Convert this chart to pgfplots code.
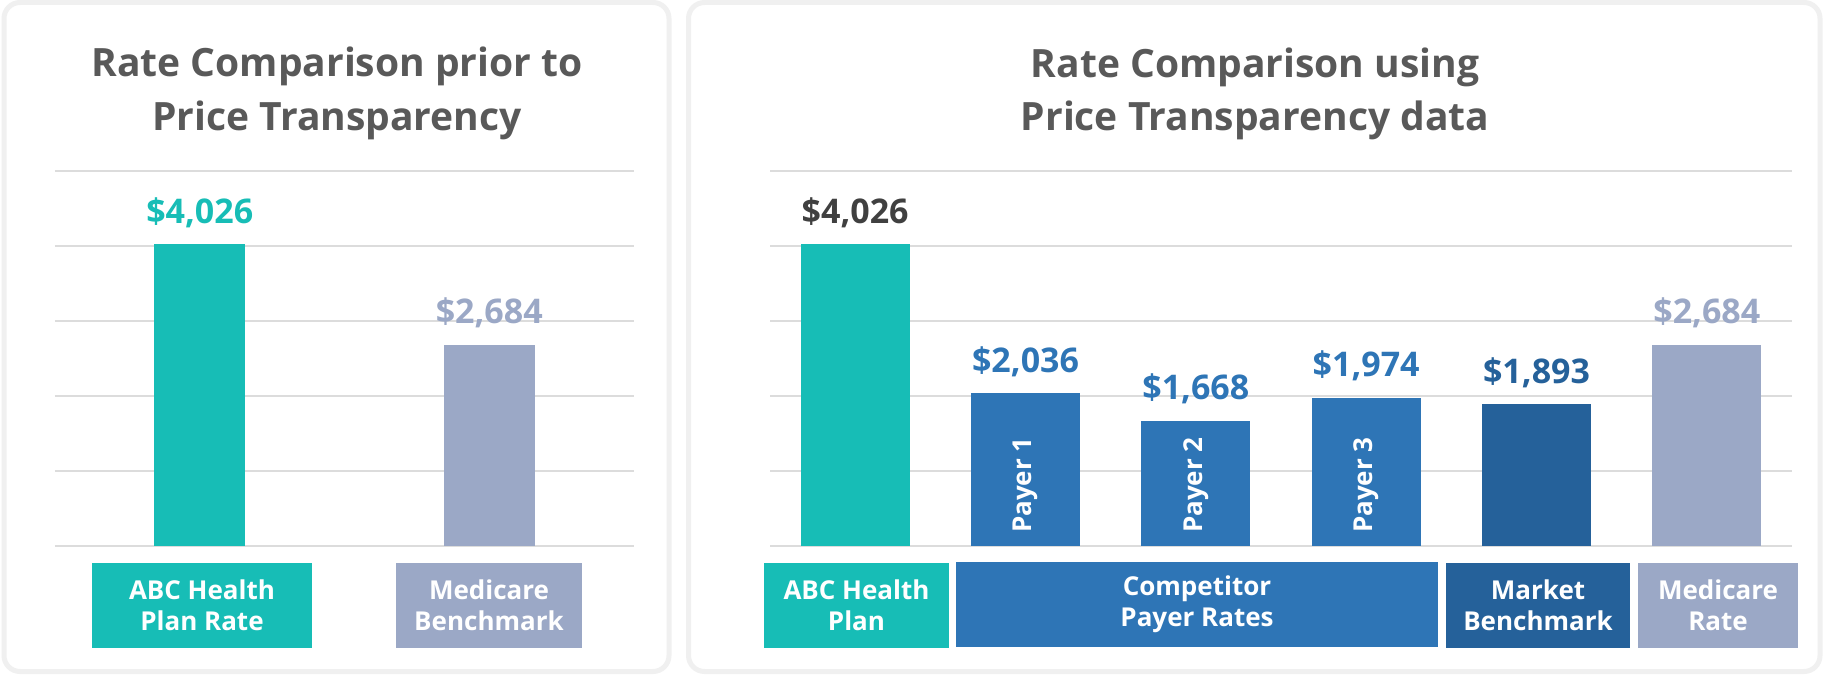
\documentclass[border=0pt]{standalone}
\usepackage{pgfplots}
\pgfplotsset{compat=1.18}
\usepackage{fontspec}
\setmainfont{Open Sans}
\definecolor{tealc}{HTML}{17BDB6}
\definecolor{medc}{HTML}{9BA8C6}
\definecolor{payc}{HTML}{2E75B6}
\definecolor{mktc}{HTML}{25619A}
\definecolor{gridc}{HTML}{DCDCDC}
\definecolor{titlec}{HTML}{595959}
\definecolor{darkc}{HTML}{404040}
\definecolor{panelc}{HTML}{F0F0F0}
\newcommand{\titlefont}{\bfseries\fontsize{19.5}{27}\selectfont}
\newcommand{\valfont}{\bfseries\fontsize{17}{20}\selectfont}
\newcommand{\boxfont}{\bfseries\fontsize{13}{15.5}\selectfont}
\pgfplotsset{
  mybase/.style={
    anchor=south west, scale only axis, height=187.5pt,
    ymin=0, ymax=5000, ytick={0,1000,...,5000}, ymajorgrids,
    grid style={line width=1.15pt, draw=gridc},
    xtick=\empty, yticklabels={}, tick style={draw=none},
    axis line style={draw=none},
    ybar, bar shift=0pt,
    every node near coord/.append style={font=\valfont, anchor=base, yshift=10.5pt},
  }
}
\begin{document}
\begin{tikzpicture}
\begin{scope}[x=0.5pt,y=0.5pt]
\useasboundingbox (0,0) rectangle (1824,675);
\fill[white] (0,0) rectangle (1824,675);
% panels
\draw[panelc, line width=2.5pt, rounded corners=8pt] (4,3.5) rectangle (669,672.5);
\draw[panelc, line width=2.5pt, rounded corners=8pt] (688.5,3.5) rectangle (1820,672.5);
% titles
\node[anchor=base, text=titlec, font=\titlefont, inner sep=0] at (337,598) {Rate Comparison prior to};
\node[anchor=base, text=titlec, font=\titlefont, inner sep=0] at (337,544) {Price Transparency};
\node[anchor=base, text=titlec, font=\titlefont, inner sep=0] at (1255,597) {Rate Comparison using};
\node[anchor=base, text=titlec, font=\titlefont, inner sep=0] at (1255,544) {Price Transparency data};
\end{scope}
% left axis
\begin{axis}[mybase, at={(27.5pt,64.5pt)}, width=289.5pt, xmin=-0.5, xmax=1.5, bar width=45.5pt]
\addplot[fill=tealc, draw=none, nodes near coords={\$4,026}, nodes near coords style={text=tealc}] coordinates {(0,4026)};
\addplot[fill=medc, draw=none, nodes near coords={\$2,684}, nodes near coords style={text=medc}] coordinates {(1,2684)};
\end{axis}
% right axis
\begin{axis}[mybase, at={(385pt,64.5pt)}, width=511pt, xmin=-0.5, xmax=5.5, bar width=54.5pt]
\addplot[fill=tealc, draw=none, nodes near coords={\$4,026}, nodes near coords style={text=darkc}] coordinates {(0,4026)};
\addplot[fill=payc, draw=none, nodes near coords={\$2,036}, nodes near coords style={text=payc}] coordinates {(1,2036)};
\addplot[fill=payc, draw=none, nodes near coords={\$1,668}, nodes near coords style={text=payc}] coordinates {(2,1668)};
\addplot[fill=payc, draw=none, nodes near coords={\$1,974}, nodes near coords style={text=payc}] coordinates {(3,1974)};
\addplot[fill=mktc, draw=none, nodes near coords={\$1,893}, nodes near coords style={text=mktc}] coordinates {(4,1893)};
\addplot[fill=medc, draw=none, nodes near coords={\$2,684}, nodes near coords style={text=medc}] coordinates {(5,2684)};
\node[rotate=90, anchor=west, text=white, font=\boxfont, inner sep=0] at (axis cs:1,170) {Payer 1};
\node[rotate=90, anchor=west, text=white, font=\boxfont, inner sep=0] at (axis cs:2,170) {Payer 2};
\node[rotate=90, anchor=west, text=white, font=\boxfont, inner sep=0] at (axis cs:3,170) {Payer 3};
\end{axis}
% category boxes
\begin{scope}[x=0.5pt,y=0.5pt]
\fill[tealc] (92,27) rectangle (312,112);
\node[text=white, font=\boxfont, align=center] at (202,69.5) {ABC Health\\Plan Rate};
\fill[medc] (396,27) rectangle (582,112);
\node[text=white, font=\boxfont, align=center] at (489,69.5) {Medicare\\Benchmark};
\fill[tealc] (764,27) rectangle (949,112);
\node[text=white, font=\boxfont, align=center] at (856.5,69.5) {ABC Health\\Plan};
\fill[payc] (956,28) rectangle (1438,113);
\node[text=white, font=\boxfont, align=center] at (1197,70.5) {Competitor\\Payer Rates};
\fill[mktc] (1446,27) rectangle (1630,112);
\node[text=white, font=\boxfont, align=center] at (1538,69.5) {Market\\Benchmark};
\fill[medc] (1638,27) rectangle (1798,112);
\node[text=white, font=\boxfont, align=center] at (1718,69.5) {Medicare\\Rate};
\end{scope}
\end{tikzpicture}
\end{document}
